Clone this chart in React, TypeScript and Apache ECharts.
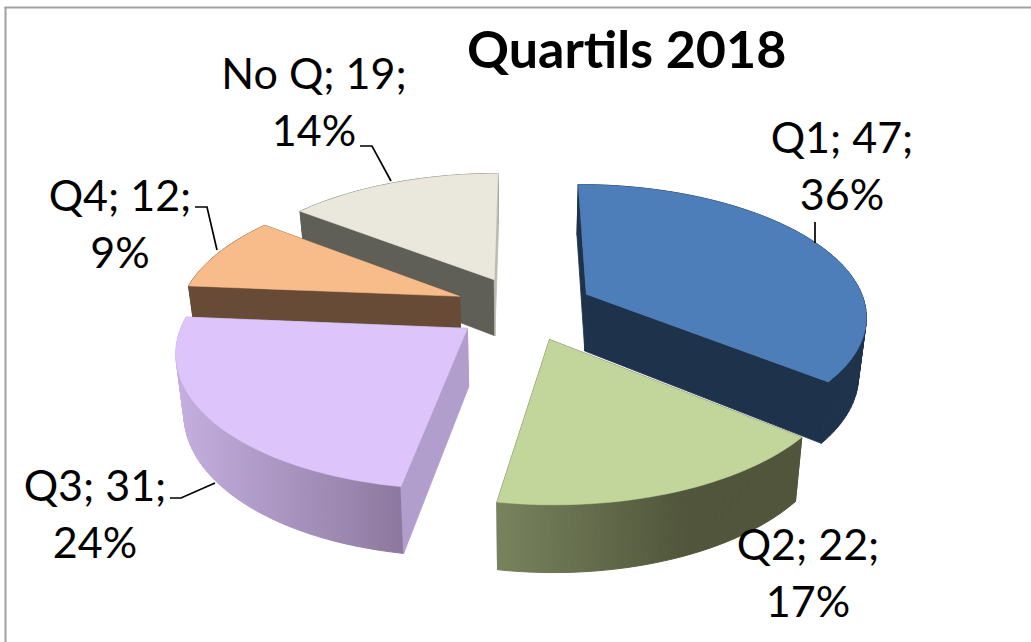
import React, { useEffect, useRef } from "react";
import * as echarts from "echarts";

const categories = ["Q1", "Q2", "Q3", "Q4", "No Q"];
const values = [47, 22, 31, 12, 19];
const percents = [36, 17, 24, 9, 14];
const chartTitle = "Quartils 2018";

const paintOrder = [4, 3, 0, 2, 1];
const topColors = ["#4d7eb9", "#c2d59a", "#ddc4fa", "#f7bc89", "#eae8dc"];
const startFaceColors = ["#1e324c", "#50553b", "#b29ecd", "#674b36", "#5f5f58"];
const endFaceColors = ["#1e324c", "#50553b", "#b29ecd", "#674b36", "#bdbbb0"];
const wallStops = [
  ["#1e324c", "#1e324c"],
  ["#78835d", "#50553b"],
  ["#c4afe0", "#8d799f"],
  ["#674b36", "#674b36"],
  ["#5f5f58", "#5f5f58"],
];
const wallStopOffset = [1, 0.62, 1, 1, 1];

const labelCentres = [
  [842, 165],
  [808, 572],
  [95, 513],
  [120, 223],
  [314, 101],
];
const leaders = [
  [[815, 222], [815, 243]],
  [],
  [[170, 498], [181, 498], [215, 483]],
  [[195, 207], [207, 207], [217, 250]],
  [[360, 146], [372, 146], [391, 181]],
];

// projection of the tilted disc
const CX = 524, CY = 308, RX = 280, RY = 130, PERSP = 0.15, EXPLODE = 0.25, DEPTH = 57.5, BOTTOM_SCALE = 0.977;

const total = values.reduce((a, b) => a + b, 0);
const project = (x: number, y: number, down: number): number[] => {
  const s = 1 / (1 - PERSP * y);
  const xScale = down > 0 ? BOTTOM_SCALE : 1;
  return [CX + RX * x * s * xScale, CY + RY * y * s + down * Math.pow(s, 0.8)];
};

function renderSlice(_params: any, api: any) {
  const i = api.value(0);
  const before = values.slice(0, i).reduce((a, b) => a + b, 0);
  const a0 = (before / total) * 2 * Math.PI;
  const a1 = ((before + values[i]) / total) * 2 * Math.PI;
  const mid = (a0 + a1) / 2;
  const ax = EXPLODE * Math.sin(mid);
  const ay = -EXPLODE * Math.cos(mid);
  const rim = (t: number, down: number) => project(ax + Math.sin(t), ay - Math.cos(t), down);
  const steps = Math.max(4, Math.round((a1 - a0) / 0.03));
  const ts: number[] = [];
  for (let k = 0; k <= steps; k++) ts.push(a0 + ((a1 - a0) * k) / steps);

  const apexTop = project(ax, ay, 0);
  const apexBot = project(ax, ay, DEPTH);
  const topArc = ts.map((t) => rim(t, 0));
  const botArc = ts.map((t) => rim(t, DEPTH));
  const midTop = rim(mid, 0);

  const visible = (p: number[]) => {
    const ex = p[0] - apexTop[0], ey = p[1] - apexTop[1];
    const inner = ex * (midTop[1] - apexTop[1]) - ey * (midTop[0] - apexTop[0]);
    const shift = ex * DEPTH;
    return inner * shift < 0;
  };
  const poly = (points: number[][], fill: any, lineWidth = 0.8) => ({
    type: "polygon",
    shape: { points },
    style: { fill, stroke: fill, lineWidth },
  });

  const startP = rim(a0, 0), endP = rim(a1, 0);
  const startFace = poly([apexTop, startP, rim(a0, DEPTH), apexBot], startFaceColors[i]);
  const endFace = poly([apexTop, endP, rim(a1, DEPTH), apexBot], endFaceColors[i]);

  // the outer wall is a strip of quads sharing one gradient in page coordinates
  const xsAll = topArc.map((p) => p[0]);
  const xMin = Math.min(...xsAll), xMax = Math.max(...xsAll);
  const makeGrad = () =>
    new (echarts.graphic.LinearGradient as any)(
      xMin,
      0,
      xMax,
      0,
      [
        { offset: 0, color: wallStops[i][0] },
        { offset: wallStopOffset[i], color: wallStops[i][1] },
        { offset: 1, color: wallStops[i][1] },
      ],
      true
    );
  const wallFill = makeGrad();
  const wallQuads: any[] = [];
  for (let k = 0; k < steps; k++) {
    wallQuads.push(poly([topArc[k], topArc[k + 1], botArc[k + 1], botArc[k]], wallFill, 1));
  }
  const top = poly([apexTop, ...topArc], topColors[i], 0.5);

  const hidden: any[] = [];
  const shown: any[] = [];
  (visible(startP) ? shown : hidden).push(startFace);
  (visible(endP) ? shown : hidden).push(endFace);
  return { type: "group", children: [...hidden, ...wallQuads, ...shown, top] };
}

export default function App() {
  const ref = useRef<HTMLDivElement>(null);
  useEffect(() => {
    const chart = echarts.init(ref.current!, undefined, { renderer: "svg" });
    const labels = categories.map((c, i) => ({
      type: "text",
      z: 20,
      x: labelCentres[i][0],
      y: labelCentres[i][1],
      style: {
        text: `${c}; ${values[i]};\n${percents[i]}%`,
        fill: "#000",
        font: "43px Lato",
        lineHeight: 57,
        align: "center",
        verticalAlign: "middle",
      },
    }));
    const lines = leaders
      .filter((l) => l.length)
      .map((points) => ({
        type: "polyline",
        z: 19,
        shape: { points },
        style: { stroke: "#000", lineWidth: 1.7, fill: "none" },
      }));
    chart.setOption({
      animation: false,
      backgroundColor: "#fff",
      title: {
        text: chartTitle,
        left: 467,
        top: 22,
        padding: 0,
        textStyle: { fontFamily: "Lato", fontWeight: "bold", fontSize: 52, color: "#000" },
      },
      graphic: [
        { type: "rect", z: 30, shape: { x: 4.5, y: 7, width: 2, height: 635 }, style: { fill: "#a0a0a0" } },
        { type: "rect", z: 30, shape: { x: 4.5, y: 6.5, width: 1027, height: 2 }, style: { fill: "#a0a0a0" } },
        ...lines,
        ...labels,
      ],
      series: [
        {
          type: "custom",
          coordinateSystem: "none",
          renderItem: renderSlice,
          data: paintOrder.map((i) => [i, values[i]]),
          silent: true,
        },
      ],
    });
    return () => chart.dispose();
  }, []);
  return <div ref={ref} style={{ position: "absolute", left: 0, top: 0, width: 1031, height: 642 }} />;
}
